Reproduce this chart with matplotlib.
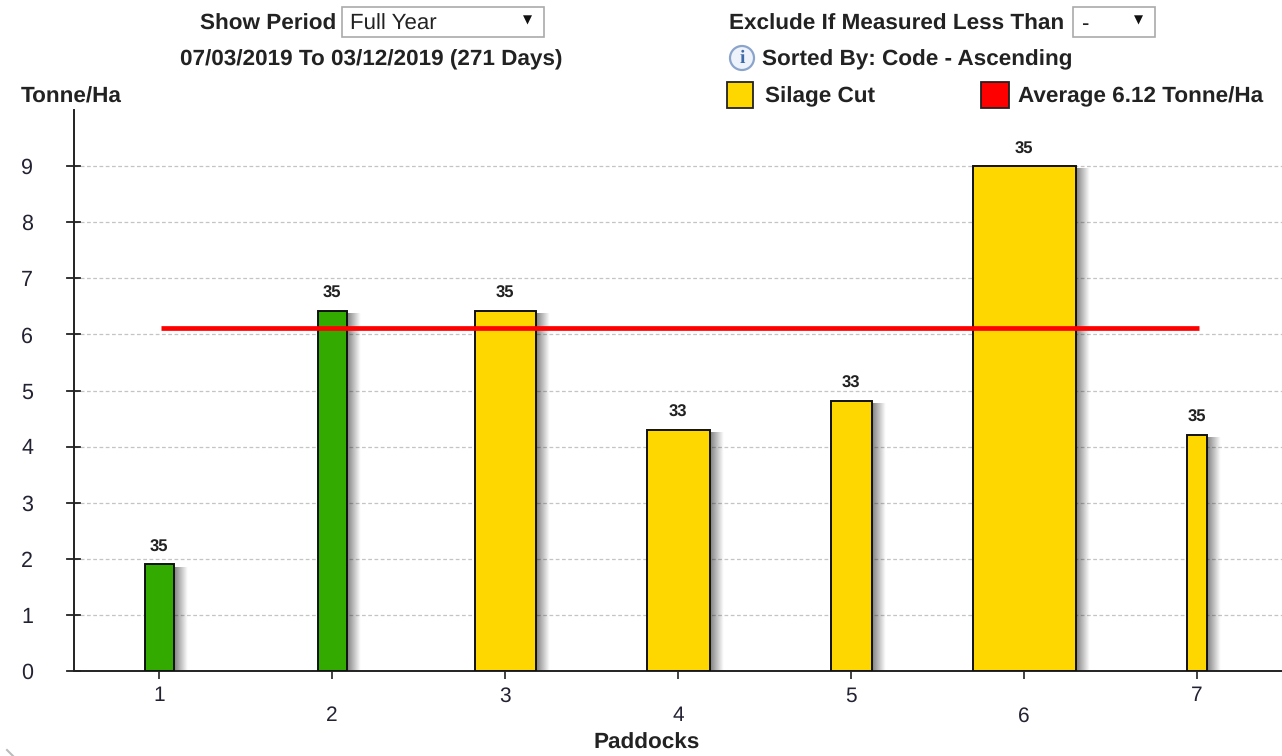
import matplotlib
matplotlib.use("Agg")
import matplotlib.pyplot as plt
import numpy as np
from matplotlib.patches import Rectangle, Ellipse

plt.rcParams['font.family'] = ['Liberation Sans', 'DejaVu Sans']
plt.rcParams['text.hinting'] = 'none'

paddocks = [1, 2, 3, 4, 5, 6, 7]
tonnes = [1.9, 6.42, 6.42, 4.3, 4.82, 9.0, 4.21]
bar_widths = [0.168, 0.168, 0.355, 0.36, 0.235, 0.597, 0.115]
bar_labels = [35, 35, 35, 33, 33, 35, 35]
bar_colors = ["#33aa00", "#33aa00", "#ffd700", "#ffd700", "#ffd700", "#ffd700", "#ffd700"]
average = 6.12
yticks = list(range(10))

W, H = 1282, 756
fig = plt.figure(figsize=(W / 100, H / 100), dpi=100)

def fx(px):
    return px / W

def fy(py):
    return 1 - py / H

# y=0 is at pixel 671, 56.06 px per unit, categories 173 px apart
ax = fig.add_axes([fx(74), fy(671), fx(W - 74), (671 - 110) / H])
xlim = (1 - 85 / 173, 1 + (W - 159) / 173)
ylim = (0, 10)

for s in ["top", "right"]:
    ax.spines[s].set_visible(False)
for s in ["left", "bottom"]:
    ax.spines[s].set_color("#222222")
    ax.spines[s].set_linewidth(1.4)

ax.set_yticks(yticks[1:])
ax.yaxis.grid(True, color="#c4c4c4", linestyle=(0, (3, 2)), linewidth=0.9)
ax.set_axisbelow(True)
ax.tick_params(axis="y", length=0, labelleft=False)
ax.tick_params(axis="x", length=6, width=1.2, color="#222222", labelbottom=False)
ax.set_xticks(paddocks)

# y ticks cross the axis line, the zero one runs left of it too
for v in yticks:
    ax.plot([-7 / 1208, 6 / 1208], [v, v], transform=ax.get_yaxis_transform(),
            color="#222222", lw=1.3, clip_on=False, zorder=4)
    fig.text(fx(27), fy(673 - v * 56.06), str(v), ha="center", va="center",
             fontsize=15.5, color="#222233")

# bars sit a touch right of their tick
nudge = 0.4 / 173
bar_x = [x + nudge for x in paddocks]

# soft shadow on the right of each bar, black fading out
fade = np.zeros((1, 32, 4))
fade[0, :, 3] = np.linspace(0.5, 0.0, 32)
for x, h, w in zip(bar_x, tonnes, bar_widths):
    right = x + w / 2
    ax.imshow(fade, extent=(right, right + 14 / 173, 0, h - 0.05), aspect="auto",
              interpolation="bilinear", zorder=2)

ax.bar(bar_x, tonnes, width=bar_widths, color=bar_colors, edgecolor="#111111",
       linewidth=1.4, zorder=3)

for x, h, lab in zip(paddocks, tonnes, bar_labels):
    ax.annotate(str(lab), (x, h), xytext=(0, 9), textcoords="offset pixels",
                ha="center", va="bottom", fontsize=12, fontweight="bold", color="#222222")

ax.plot([paddocks[0] + 0.012, paddocks[-1] + 0.012], [average, average],
        color="#ff0000", lw=3.4, solid_capstyle="butt", zorder=5)

ax.set_xlim(xlim)
ax.set_ylim(ylim)

# x labels are staggered on two rows
for x in paddocks:
    py = 696 if x % 2 else 716
    fig.text(fx(159 + (x - 1) * 173), fy(py), str(x), ha="center", va="center",
             fontsize=15, color="#222233")

txt = dict(fontsize=16.2, color="#222222", va="center", fontweight="bold")
fig.text(fx(647), fy(743), "Paddocks", ha="center", **txt)
fig.text(fx(21), fy(97), "Tonne/Ha", ha="left", **txt)
fig.text(fx(200), fy(24), "Show Period", ha="left", **txt)
fig.text(fx(371), fy(60), "07/03/2019 To 03/12/2019 (271 Days)", ha="center", **txt)
fig.text(fx(729), fy(24), "Exclude If Measured Less Than", ha="left", **txt)
fig.text(fx(762), fy(60), "Sorted By: Code - Ascending", ha="left", **txt)
fig.text(fx(765), fy(97), "Silage Cut", ha="left", **txt)
fig.text(fx(1018), fy(97), "Average 6.12 Tonne/Ha", ha="left", **txt)

# dropdowns, legend swatches and info icon sit in figure pixels
def box(x0, y0, x1, y1, face, edge, lw=1.0):
    fig.add_artist(Rectangle((fx(x0), fy(y1)), fx(x1 - x0), (y1 - y0) / H, facecolor=face,
                             edgecolor=edge, linewidth=lw, transform=fig.transFigure))

box(342, 7, 544, 37, "white", "#aaaaaa", 1.2)
box(1073, 7, 1155, 37, "white", "#aaaaaa", 1.2)
fig.text(fx(350), fy(24), "Full Year", ha="left", va="center", fontsize=16, color="#222222")
fig.text(fx(1081), fy(24), "-", ha="left", va="center", fontsize=16, color="#222222")
fig.text(fx(527), fy(20), "▼", ha="center", va="center", fontsize=8.5, color="#111111",
         family="DejaVu Sans")
fig.text(fx(1138), fy(20), "▼", ha="center", va="center", fontsize=8.5, color="#111111",
         family="DejaVu Sans")
box(727, 82, 753, 108, "#ffd700", "#222222", 1.3)
box(981, 82, 1009, 108, "#ff0000", "#222222", 1.3)

fig.add_artist(Ellipse((fx(742), fy(58)), 24 / W, 24 / H, facecolor="#eef3fb",
                       edgecolor="#8aa4cc", linewidth=1.6, transform=fig.transFigure))
fig.text(fx(742), fy(58), "i", ha="center", va="center", fontsize=14, fontweight="bold",
         color="#3f6aa8", family="Liberation Serif")

# scrap of a rounded window corner bottom left
fig.add_artist(plt.Line2D([fx(7), fx(13)], [fy(750), fy(756)], color="#bbbbbb", lw=1.5))

fig.savefig("out.png", dpi=100)
